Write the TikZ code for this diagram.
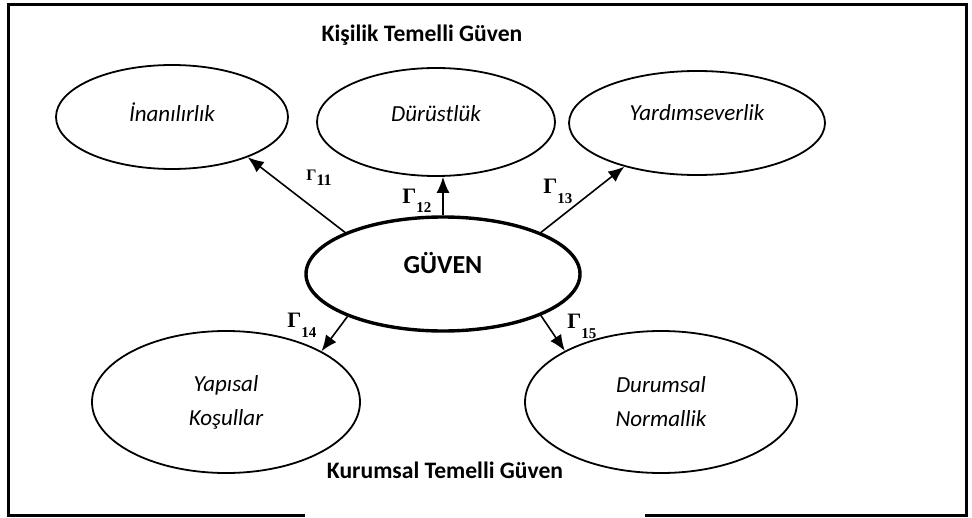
\documentclass[tikz,border=0pt]{standalone}
\usepackage{fontspec}
\setmainfont{Carlito}
\newfontfamily\gammafont{Liberation Serif}
\usetikzlibrary{shapes.geometric, arrows.meta}
\tikzset{
    construct/.style={ellipse, draw, line width=0.9pt, inner sep=0pt, align=center, font=\itshape\fontsize{11.5}{17}\selectfont},
    core/.style={ellipse, draw, line width=1.7pt, inner sep=0pt, font=\bfseries\fontsize{13}{15}\selectfont},
    lift/.style={text depth=#1},
    grouplabel/.style={font=\bfseries\fontsize{11.8}{14}\selectfont, inner sep=0pt},
    gammalabel/.style={anchor=base west, inner sep=0pt, font=\gammafont\bfseries\fontsize{11}{12}\selectfont},
    loading/.style={line width=0.8pt, -{Latex[length=8pt,width=6.5pt]}}
}
\newcommand{\gam}[1]{Γ\raisebox{-5pt}{\fontsize{7.5}{9}\selectfont #1}}

\begin{document}
\begin{tikzpicture}[x=0.5pt, y=-0.5pt]
    \useasboundingbox (0,0) rectangle (972,518);

    % frame (open at the bottom middle)
    \draw[line width=1.5pt] (305,515) -| (8,5) -| (966,515) -- (645,515);

    % group titles
    \node[grouplabel] (kisilik) at (422,35) {Kişilik Temelli Güven};
    \node[grouplabel] (kurumsal) at (445,470) {Kurumsal Temelli Güven};

    % centre construct
    \node[core, minimum width=137pt, minimum height=57pt, lift=11pt] (guven) at (443,274) {GÜVEN};

    % person based dimensions
    \node[construct, minimum width=116pt, minimum height=52pt, lift=5pt] (inan) at (172,117) {İnanılırlık};
    \node[construct, minimum width=119pt, minimum height=54pt, lift=8pt] (durust) at (436,122) {Dürüstlük};
    \node[construct, minimum width=128pt, minimum height=52pt, lift=10pt] (yardim) at (697,123) {Yardımseverlik};

    % institution based dimensions
    \node[construct, minimum width=134pt, minimum height=71pt] (yapisal) at (226,402) {Yapısal\\Koşullar};
    \node[construct, minimum width=136pt, minimum height=71pt] (durumsal) at (661,402) {Durumsal\\Normallik};

    % loadings
    \draw[loading] (guven.157) -- (inan.-28);
    \draw[loading] (guven.north) -- (guven.north |- durust.south);
    \draw[loading] (guven.23) -- (yardim.211);
    \draw[loading] (guven.204) -- (yapisal.28);
    \draw[loading] (guven.-23) -- (durumsal.152);

    % loading labels
    \node[gammalabel, font=\gammafont\bfseries\fontsize{8}{9}\selectfont] (g11) at (306,181) {Γ\raisebox{-2pt}{11}};
    \node[gammalabel] (g12) at (402,203) {\gam{12}};
    \node[gammalabel] (g13) at (543,193) {\gam{13}};
    \node[gammalabel] (g14) at (287,327) {\gam{14}};
    \node[gammalabel] (g15) at (567,328) {\gam{15}};
\end{tikzpicture}
\end{document}
